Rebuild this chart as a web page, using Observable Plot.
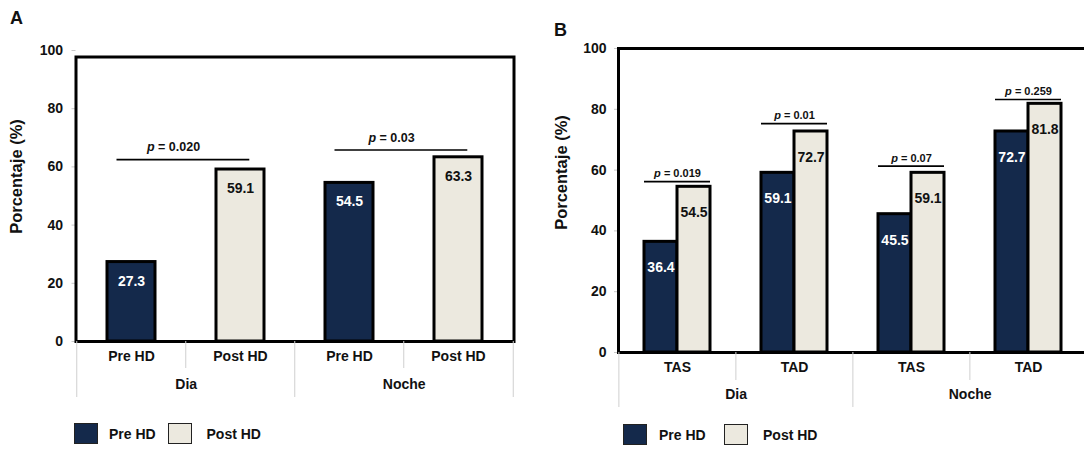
<!DOCTYPE html>
<html>
<head>
<meta charset="utf-8">
<script src="https://cdn.jsdelivr.net/npm/d3@7"></script>
<script src="https://cdn.jsdelivr.net/npm/@observablehq/plot@0.6"></script>
<style>
  html, body { margin: 0; padding: 0; background: #fff; overflow: hidden; }
  #wrap { position: relative; width: 1084px; height: 450px; overflow: hidden;
          font-family: "Liberation Sans", Arial, sans-serif; font-weight: bold; color: #111; }
  .panel { position: absolute; top: 0; }
  .panel svg { max-width: none !important; }
  .letter { position: absolute; font-size: 18px; line-height: 1; }
  .sw { position: absolute; box-sizing: border-box; border: 1.6px solid #222; }
  .lt { position: absolute; font-size: 14px; line-height: 1; }
</style>
</head>
<body>
<div id="wrap"></div>
<script>
// ---------- data ----------
const groups = ["Dia", "Noche"];
const condsA = ["Pre HD", "Post HD"];
const preA = [27.3, 54.5];
const postA = [59.1, 63.3];
const pLabelsA = ["p = 0.020", "p = 0.03"];
const pLevelsA = [62.5, 65.8];

const metricsB = ["TAS", "TAD"];
const preB = [36.4, 59.1, 45.5, 72.7];   // Dia TAS, Dia TAD, Noche TAS, Noche TAD
const postB = [54.5, 72.7, 59.1, 81.8];
const pLabelsB = ["p = 0.019", "p = 0.01", "p = 0.07", "p = 0.259"];
const pLevelsB = [56.2, 75.3, 61.3, 83.2];

const yTicks = [0, 20, 40, 60, 80, 100];
const yLabel = "Porcentaje (%)";
const colors = ["#14294b", "#ece9df"];
const legendLabels = ["Pre HD", "Post HD"];

// ---------- tables ----------
const tableA = [];
groups.forEach((g, gi) => condsA.forEach((c, ci) => {
  tableA.push({key: g + "|" + c, group: g, cond: c, value: ci === 0 ? preA[gi] : postA[gi]});
}));
const keysA = tableA.map(d => d.key);
const pA = groups.map((g, gi) => ({from: g + "|" + condsA[0], to: g + "|" + condsA[1], level: pLevelsA[gi], label: pLabelsA[gi]}));

const tableB = [];
groups.forEach((g, gi) => metricsB.forEach((m, mi) => {
  const i = gi * metricsB.length + mi;
  tableB.push({key: g + "|" + m, group: g, metric: m, pre: preB[i], post: postB[i], level: pLevelsB[i], label: pLabelsB[i]});
}));
const keysB = tableB.map(d => d.key);

const font = {fontFamily: "Liberation Sans, Arial, sans-serif", fontWeight: "bold", fontSize: "14px", background: "transparent", overflow: "visible", maxWidth: "none"};
const sepColor = "#cfcfcf";

function italicP(svg) {
  svg.querySelectorAll("text").forEach(t => {
    const s = t.textContent;
    if (s.startsWith("p =")) {
      t.textContent = "";
      const ts = document.createElementNS("http://www.w3.org/2000/svg", "tspan");
      ts.setAttribute("font-style", "italic");
      ts.textContent = "p";
      t.appendChild(ts);
      t.appendChild(document.createTextNode(s.slice(1)));
    }
  });
}

// ---------- panel A ----------
const WA = 540, HA = 410, mlA = 75.5, mrA = 26.5, mtA = 50, y0A = 341;
const stepA = (WA - mlA - mrA) / keysA.length;
const plotA = Plot.plot({
  width: WA, height: HA, marginLeft: mlA, marginRight: mrA, marginTop: mtA, marginBottom: HA - y0A,
  style: font,
  x: {domain: keysA, paddingInner: 0.562, paddingOuter: 0.281, axis: null},
  y: {domain: [0, 100], axis: null},
  color: {domain: condsA, range: colors},
  marks: [
    Plot.axisY(yTicks, {tickSize: 4, tickPadding: 9, stroke: "#c8c8c8", fill: "#111", fontSize: 14, label: null}),
    Plot.barY(tableA, {x: "key", y: "value", fill: "cond", stroke: "black", strokeWidth: 3}),
    Plot.text(tableA, {filter: d => d.cond === condsA[0], x: "key", y: "value", text: d => d.value.toFixed(1), dy: 19, fill: "white", fontSize: 14}),
    Plot.text(tableA, {filter: d => d.cond === condsA[1], x: "key", y: "value", text: d => d.value.toFixed(1), dy: 19, fill: "#111", fontSize: 14}),
    Plot.ruleY(pA, {x1: "from", x2: "to", y: "level", stroke: "black", strokeWidth: 1.6, insetLeft: 9.5, insetRight: 14.7}),
    Plot.text(pA, {x: "from", y: "level", text: "label", dx: 42, dy: -12.5, fontSize: 12.5, fill: "#111"}),
    Plot.frame({stroke: "black", strokeWidth: 3, insetTop: 6.5}),
    // category axis
    Plot.text(tableA, {x: "key", text: "cond", frameAnchor: "bottom", dy: 19, fontSize: 14, fill: "#111"}),
    Plot.text(groups, {x: g => g + "|" + condsA[0], text: d => d, frameAnchor: "bottom", dx: stepA / 2, dy: 47, fontSize: 14, fill: "#111"}),
    Plot.ruleX(groups, {x: g => g + "|" + condsA[1], y1: () => 0, y2: () => 0, dx: -stepA / 2, insetBottom: -27, stroke: sepColor}),
    Plot.ruleX(groups, {x: g => g + "|" + condsA[0], y1: () => 0, y2: () => 0, dx: -stepA / 2, insetBottom: -56, stroke: sepColor}),
    Plot.ruleX([keysA[keysA.length - 1]], {x: d => d, y1: () => 0, y2: () => 0, dx: stepA / 2, insetBottom: -56, stroke: sepColor}),
    Plot.text([yLabel], {text: d => d, frameAnchor: "left", textAnchor: "middle", rotate: -90, dx: -(mlA - 16.5), dy: 176 - (mtA + y0A) / 2, fontSize: 16.5, fill: "#111"})
  ]
});
italicP(plotA);

// ---------- panel B ----------
const leftB = 544, WB = 548, HB = 410, mlB = 74, mrB = 5, mtB = 48, y0B = 352;
const stepB = (WB - mlB - mrB) / keysB.length;
const padB = 0.437;
const bwB = stepB * (1 - padB);
const plotB = Plot.plot({
  width: WB, height: HB, marginLeft: mlB, marginRight: mrB, marginTop: mtB, marginBottom: HB - y0B,
  style: font,
  x: {domain: keysB, paddingInner: padB, paddingOuter: padB / 2, axis: null},
  y: {domain: [0, 100], axis: null},
  marks: [
    Plot.axisY(yTicks, {tickSize: 4, tickPadding: 8, stroke: "#c8c8c8", fill: "#111", fontSize: 14, label: null}),
    Plot.barY(tableB, {x: "key", y: "pre", fill: colors[0], stroke: "black", strokeWidth: 3, insetRight: bwB / 2}),
    Plot.barY(tableB, {x: "key", y: "post", fill: colors[1], stroke: "black", strokeWidth: 3, insetLeft: bwB / 2}),
    Plot.text(tableB, {x: "key", y: "pre", text: d => d.pre.toFixed(1), dx: -bwB / 4, dy: 26, fill: "white", fontSize: 14}),
    Plot.text(tableB, {x: "key", y: "post", text: d => d.post.toFixed(1), dx: bwB / 4, dy: 26, fill: "#111", fontSize: 14}),
    Plot.ruleY(tableB, {x1: "key", x2: "key", y: "level", stroke: "black", strokeWidth: 1.6}),
    Plot.text(tableB, {x: "key", y: "level", text: "label", dy: -8, fontSize: 11, fill: "#111"}),
    Plot.frame({stroke: "black", strokeWidth: 3}),
    Plot.text(tableB, {x: "key", text: "metric", frameAnchor: "bottom", dy: 19, fontSize: 14, fill: "#111"}),
    Plot.text(groups, {x: g => g + "|" + metricsB[0], text: d => d, frameAnchor: "bottom", dx: stepB / 2, dy: 46, fontSize: 14, fill: "#111"}),
    Plot.ruleX(groups, {x: g => g + "|" + metricsB[1], y1: () => 0, y2: () => 0, dx: -stepB / 2, insetBottom: -28, stroke: sepColor}),
    Plot.ruleX(groups, {x: g => g + "|" + metricsB[0], y1: () => 0, y2: () => 0, dx: -stepB / 2, insetBottom: -55, stroke: sepColor}),
    Plot.ruleX([keysB[keysB.length - 1]], {x: d => d, y1: () => 0, y2: () => 0, dx: stepB / 2, insetBottom: -55, stroke: sepColor}),
    Plot.text([yLabel], {text: d => d, frameAnchor: "left", textAnchor: "middle", rotate: -90, dx: -(mlB - 17.5), dy: 172 - (mtB + y0B) / 2, fontSize: 16.5, fill: "#111"})
  ]
});
italicP(plotB);

// ---------- layout ----------
const wrap = document.getElementById("wrap");
const pa = document.createElement("div"); pa.className = "panel"; pa.style.left = "0px"; pa.style.width = WA + "px"; pa.appendChild(plotA); wrap.appendChild(pa);
const pb = document.createElement("div"); pb.className = "panel"; pb.style.left = leftB + "px"; pb.style.width = WB + "px"; pb.appendChild(plotB); wrap.appendChild(pb);

function letter(txt, x, y) {
  const d = document.createElement("div"); d.className = "letter"; d.textContent = txt;
  d.style.left = x + "px"; d.style.top = y + "px"; wrap.appendChild(d);
}
letter("A", 10, 9);
letter("B", 554, 21);

function legend(items) {
  items.forEach(it => {
    const s = document.createElement("div"); s.className = "sw";
    s.style.left = it.sx + "px"; s.style.top = it.sy + "px";
    s.style.width = "24px"; s.style.height = "20.5px"; s.style.background = it.color;
    wrap.appendChild(s);
    const t = document.createElement("div"); t.className = "lt"; t.textContent = it.label;
    t.style.left = it.tx + "px"; t.style.top = (it.sy + 3.5) + "px";
    wrap.appendChild(t);
  });
}
legend([
  {color: colors[0], label: legendLabels[0], sx: 73.5, sy: 423, tx: 109},
  {color: colors[1], label: legendLabels[1], sx: 168, sy: 423, tx: 206.5},
  {color: colors[0], label: legendLabels[0], sx: 623, sy: 424, tx: 659},
  {color: colors[1], label: legendLabels[1], sx: 723.5, sy: 424, tx: 763}
]);
</script>
</body>
</html>
